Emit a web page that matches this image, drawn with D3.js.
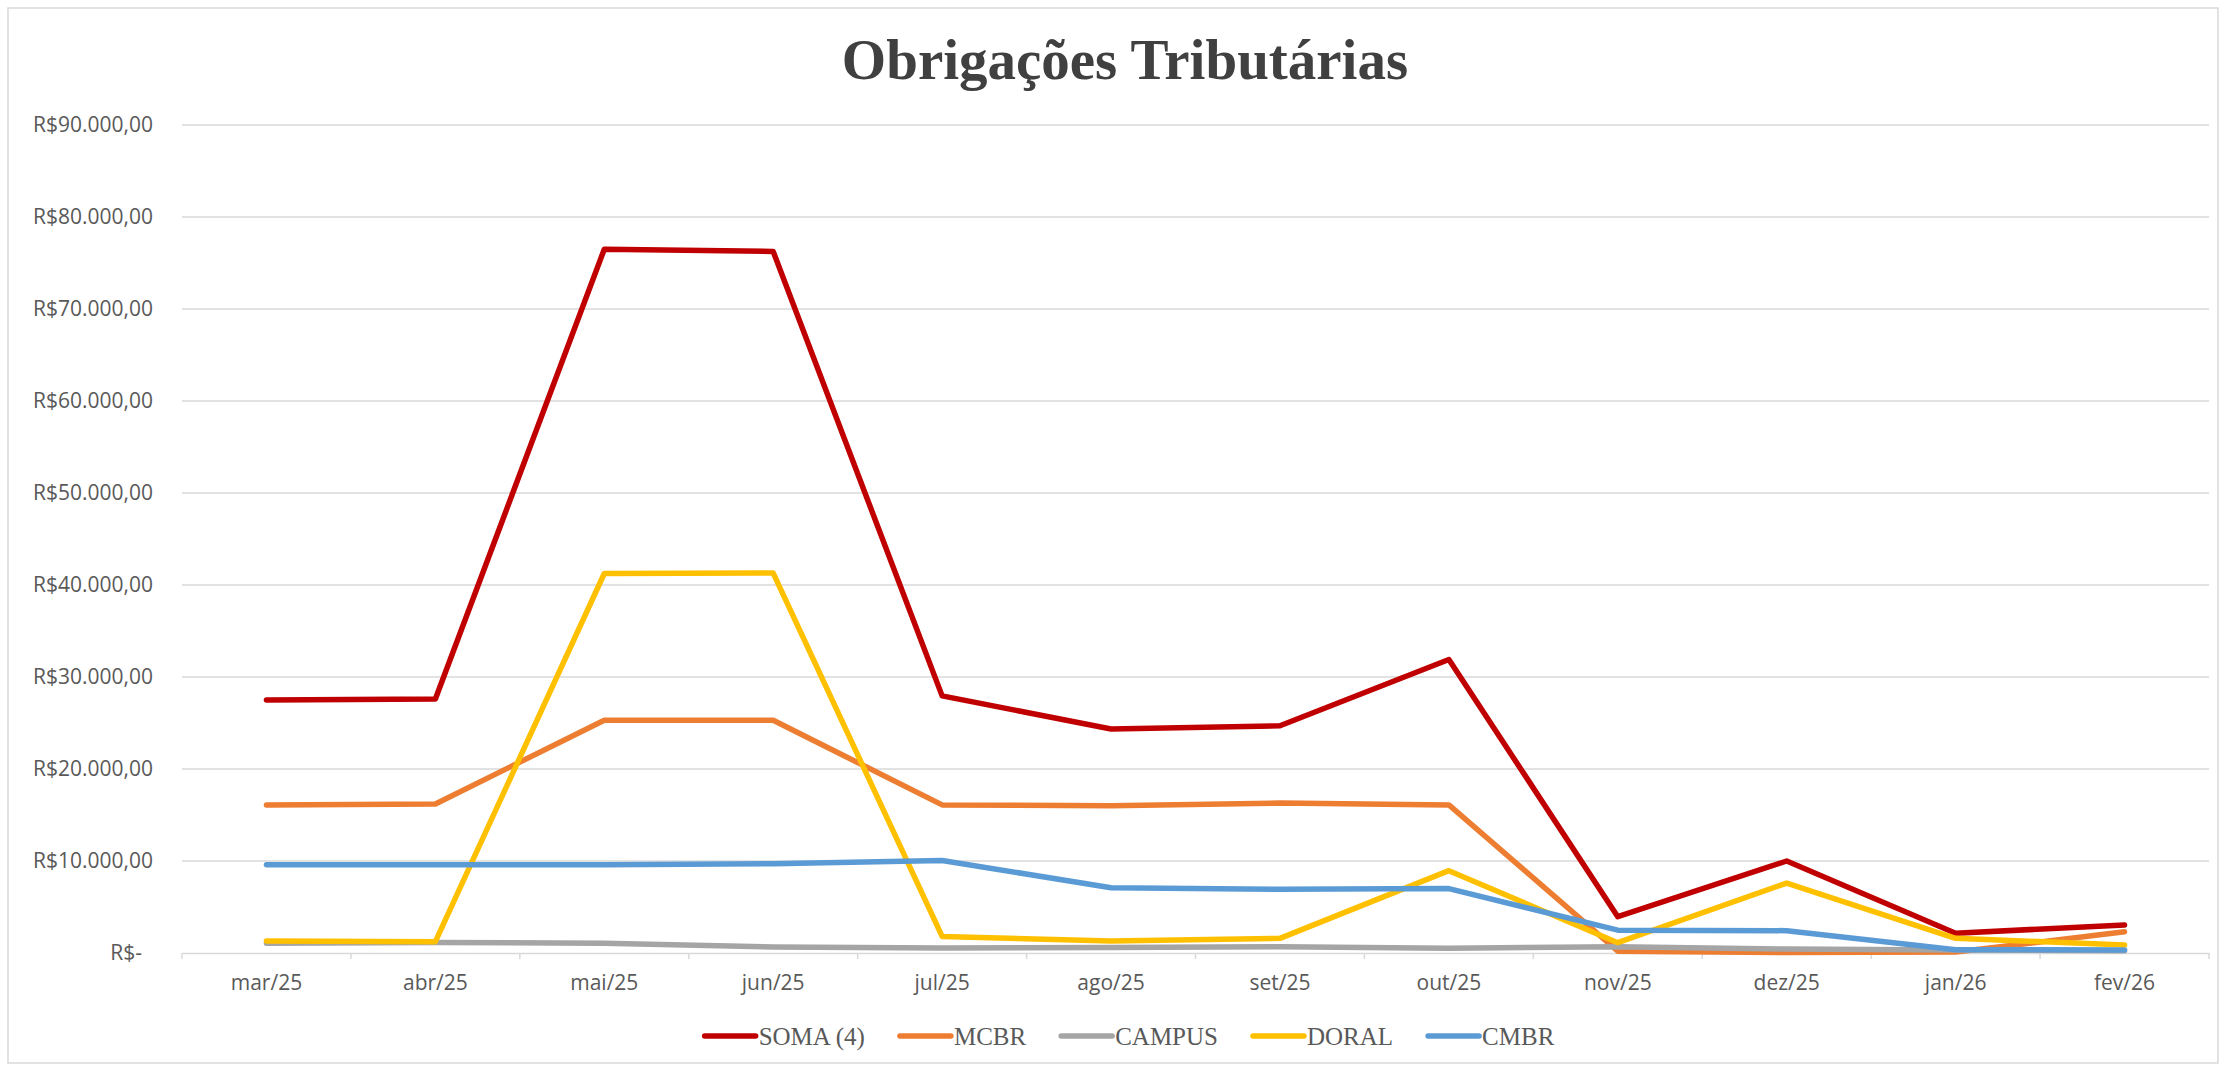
<!DOCTYPE html>
<html>
<head>
<meta charset="utf-8">
<script src="https://d3js.org/d3.v7.min.js"></script>
<style>
    body { margin: 0; background: #ffffff; }
</style>
</head>
<body>
<script>

// data
var months = ["mar/25", "abr/25", "mai/25", "jun/25", "jul/25", "ago/25",
              "set/25", "out/25", "nov/25", "dez/25", "jan/26", "fev/26"];

var seriesNames = ["SOMA (4)", "MCBR", "CAMPUS", "DORAL", "CMBR"];
var seriesColors = ["#c00000", "#ed7d31", "#a5a5a5", "#ffc000", "#5b9bd5"];

var soma   = [27500, 27600, 76500, 76250, 27950, 24350, 24700, 31900, 3950, 10000, 2150, 3050];
var mcbr   = [16100, 16200, 25300, 25300, 16100, 16000, 16300, 16100, 200, 50, 100, 2300];
var campus = [1050, 1150, 1050, 650, 540, 600, 690, 510, 690, 430, 330, 250];
var doral  = [1300, 1230, 41250, 41300, 1800, 1300, 1590, 8950, 1120, 7600, 1590, 870];
var cmbr   = [9600, 9600, 9600, 9700, 10050, 7100, 6920, 7000, 2480, 2430, 350, 330];

var yTicks = [0, 10000, 20000, 30000, 40000, 50000, 60000, 70000, 80000, 90000];

var allSeries = [soma, mcbr, campus, doral, cmbr];

window.onload = function() {
    makeGraph();
};

function makeGraph() {

    var totalWidth = 2226,
        totalHeight = 1071;

    var margin = {"left": 182, "right": 17, "top": 125, "bottom": 118};

    var svg = d3.select("body").append("svg")
        .attr("width", totalWidth)
        .attr("height", totalHeight);

    // chart border
    svg.append("rect")
        .attr("x", 8)
        .attr("y", 8)
        .attr("width", 2210)
        .attr("height", 1055)
        .attr("fill", "#ffffff")
        .attr("stroke", "#d9d9d9")
        .attr("stroke-width", 1.5);

    // title
    svg.append("text")
        .attr("x", 1125)
        .attr("y", 79)
        .attr("text-anchor", "middle")
        .style("font-family", "'Liberation Serif', serif")
        .style("font-weight", "bold")
        .style("font-size", "57px")
        .style("fill", "#404040")
        .text("Obrigações Tributárias");

    var x = d3.scaleBand()
        .domain(months)
        .range([margin.left, totalWidth - margin.right]);

    var y = d3.scaleLinear()
        .domain([0, 90000])
        .range([totalHeight - margin.bottom, margin.top]);

    // brazilian currency format
    var br = d3.formatLocale({
        "decimal": ",",
        "thousands": ".",
        "grouping": [3],
        "currency": ["R$", ""]
    });
    var money = br.format("$,.2f");

    // gridlines
    svg.selectAll(".grid")
        .data(yTicks.slice(1)).enter()
        .append("line")
        .attr("class", "grid")
        .attr("x1", margin.left)
        .attr("x2", totalWidth - margin.right)
        .attr("y1", function(d) { return y(d); })
        .attr("y2", function(d) { return y(d); })
        .attr("stroke", "#d9d9d9")
        .attr("stroke-width", 1.5);

    // y axis labels
    var yAxis = d3.axisLeft(y)
        .tickValues(yTicks)
        .tickSize(0)
        .tickPadding(29)
        .tickFormat(function(d) { return d === 0 ? "R$-" : money(d); });

    var yg = svg.append("g")
        .attr("transform", "translate(" + margin.left + ",0)")
        .call(yAxis);
    yg.select(".domain").remove();
    yg.selectAll("text")
        .style("font-family", "'Open Sans', sans-serif")
        .style("font-size", "21px")
        .style("fill", "#595959")
        .attr("dx", function(d) { return d === 0 ? -11 : 0; });

    // x axis
    var xAxis = d3.axisBottom(x)
        .tickSize(0)
        .tickPadding(22);

    var xg = svg.append("g")
        .attr("transform", "translate(0," + y(0) + ")")
        .call(xAxis);
    xg.select(".domain")
        .attr("stroke", "#d9d9d9")
        .attr("stroke-width", 1.5);
    xg.selectAll("text")
        .style("font-family", "'Open Sans', sans-serif")
        .style("font-size", "21px")
        .style("fill", "#595959");

    // tick marks between categories
    var bounds = months.map(function(m) { return x(m); });
    bounds.push(x.range()[1]);
    svg.selectAll(".xtick")
        .data(bounds).enter()
        .append("line")
        .attr("class", "xtick")
        .attr("x1", function(d) { return d; })
        .attr("x2", function(d) { return d; })
        .attr("y1", y(0))
        .attr("y2", y(0) + 6)
        .attr("stroke", "#d9d9d9")
        .attr("stroke-width", 1.5);

    // lines
    var line = d3.line()
        .x(function(d, i) { return x(months[i]) + x.bandwidth() / 2; })
        .y(function(d) { return y(d); });

    svg.selectAll(".serie")
        .data(allSeries).enter()
        .append("path")
        .attr("class", "serie")
        .attr("d", line)
        .attr("fill", "none")
        .attr("stroke", function(d, i) { return seriesColors[i]; })
        .attr("stroke-width", 5.5)
        .attr("stroke-linejoin", "round")
        .attr("stroke-linecap", "round");

    // legend
    var legend = svg.append("g");
    var pos = 0;
    seriesNames.forEach(function(name, i) {
        var item = legend.append("g")
            .attr("transform", "translate(" + pos + ",0)");
        item.append("line")
            .attr("x1", 3)
            .attr("x2", 54)
            .attr("y1", 0)
            .attr("y2", 0)
            .attr("stroke", seriesColors[i])
            .attr("stroke-width", 5.5)
            .attr("stroke-linecap", "round");
        var t = item.append("text")
            .attr("x", 57)
            .attr("y", 0)
            .attr("dy", "0.34em")
            .style("font-family", "'Liberation Serif', serif")
            .style("font-size", "25px")
            .style("fill", "#595959")
            .text(name);
        pos += 57 + t.node().getComputedTextLength() + 32;
    });
    var legendWidth = pos - 32;
    legend.attr("transform", "translate(" + (1128 - legendWidth / 2) + ",1036)");
}
</script>
</body>
</html>
